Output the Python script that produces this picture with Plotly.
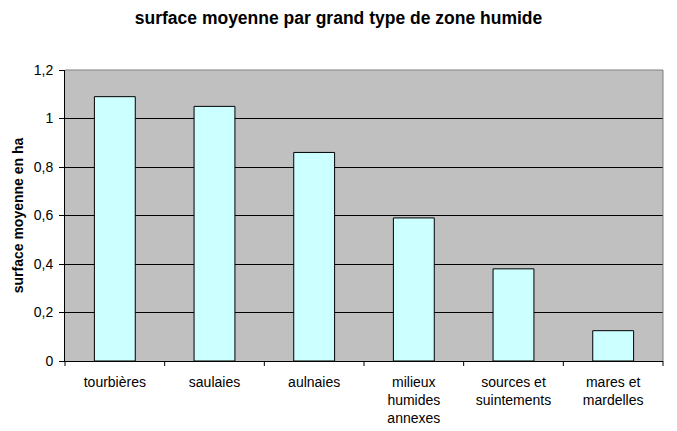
import plotly.graph_objects as go

categories = ["tourbières", "saulaies", "aulnaies", "milieux<br>humides<br>annexes",
              "sources et<br>suintements", "mares et<br>mardelles"]
values = [1.09, 1.05, 0.86, 0.59, 0.38, 0.125]
y_ticks = [0, 0.2, 0.4, 0.6, 0.8, 1.0, 1.2]
y_tick_labels = ["0", "0,2", "0,4", "0,6", "0,8", "1", "1,2"]

FONT = "Liberation Sans, Arial, sans-serif"

fig = go.Figure(go.Bar(
    x=categories, y=values,
    marker=dict(color="#CCFFFF", line=dict(color="black", width=1)),
    width=0.41,
))

fig.update_layout(
    width=677, height=431,
    margin=dict(l=65, r=14, t=70, b=70),
    paper_bgcolor="white", plot_bgcolor="#C0C0C0",
    font=dict(family=FONT, size=14, color="black"),
    title=dict(text="<b>surface moyenne par grand type de zone humide</b>",
               x=0.5, xanchor="center", y=0.958, yanchor="middle",
               font=dict(size=17.5, family=FONT, color="black")),
    showlegend=False,
    separators=", ",
)
fig.update_xaxes(
    showline=True, linecolor="black", linewidth=1,
    ticks="", showgrid=False, tickfont=dict(size=14),
    ticklabelstandoff=8, automargin=False,
    mirror=False,
)
fig.update_yaxes(
    range=[0, 1.2], tickvals=y_ticks, ticktext=y_tick_labels,
    showline=True, linecolor="black", linewidth=1,
    ticks="outside", ticklen=5, tickcolor="black",
    showgrid=True, gridcolor="black", gridwidth=1,
    zeroline=False, tickfont=dict(size=14),
    ticklabelstandoff=3, automargin=False,
    title=dict(text="<b>surface moyenne en ha</b>", font=dict(size=14), standoff=6),
)
# category-boundary tick marks on x axis and gray frame
shapes = []
for i in range(7):
    shapes.append(dict(type="line", xref="x domain", yref="paper",
                       x0=i / 6, x1=i / 6, y0=0, y1=-5 / 291, line=dict(color="black", width=1)))
shapes.append(dict(type="line", xref="paper", yref="paper", x0=0, x1=1, y0=1, y1=1,
                   line=dict(color="#808080", width=1)))
shapes.append(dict(type="line", xref="paper", yref="paper", x0=1, x1=1, y0=0, y1=1,
                   line=dict(color="#808080", width=1)))
fig.update_layout(shapes=shapes)

fig.write_html("out.html", config={"displayModeBar": False},
               post_script="document.body.style.margin='0';")
